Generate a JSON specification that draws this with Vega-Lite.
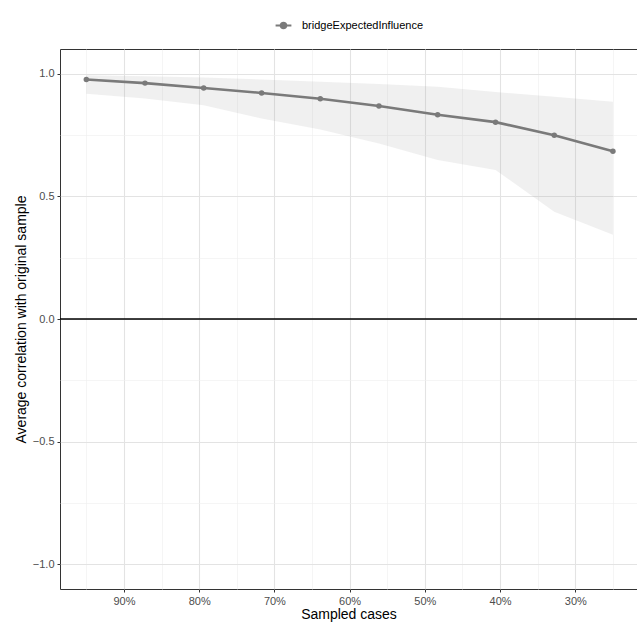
{
  "$schema": "https://vega.github.io/schema/vega-lite/v6.json",
  "width": 577,
  "height": 540,
  "autosize": "none",
  "padding": {"left": 60, "top": 49, "right": 0, "bottom": 34},
  "background": "white",
  "config": {
    "font": "Liberation Sans",
    "view": {"stroke": "#333333", "strokeWidth": 1},
    "axis": {
      "domain": false,
      "labelFont": "Liberation Sans",
      "labelFontSize": 11,
      "labelColor": "#4D4D4D",
      "titleFont": "Liberation Sans",
      "titleFontSize": 14,
      "titleFontWeight": "normal",
      "titleColor": "#000000",
      "tickColor": "#333333",
      "tickSize": 3,
      "labelPadding": 3
    },
    "legend": {
      "layout": {"top": {"anchor": "middle"}},
      "labelFont": "Liberation Sans",
      "labelFontSize": 11,
      "labelColor": "#000000"
    }
  },
  "datasets": {
    "stab": [
      {"sampled": 0.95, "mean": 0.976, "lower": 0.918, "upper": 0.993, "type": "bridgeExpectedInfluence"},
      {"sampled": 0.872, "mean": 0.961, "lower": 0.898, "upper": 0.989, "type": "bridgeExpectedInfluence"},
      {"sampled": 0.794, "mean": 0.941, "lower": 0.871, "upper": 0.984, "type": "bridgeExpectedInfluence"},
      {"sampled": 0.717, "mean": 0.921, "lower": 0.817, "upper": 0.976, "type": "bridgeExpectedInfluence"},
      {"sampled": 0.639, "mean": 0.897, "lower": 0.772, "upper": 0.967, "type": "bridgeExpectedInfluence"},
      {"sampled": 0.561, "mean": 0.868, "lower": 0.715, "upper": 0.957, "type": "bridgeExpectedInfluence"},
      {"sampled": 0.483, "mean": 0.832, "lower": 0.648, "upper": 0.946, "type": "bridgeExpectedInfluence"},
      {"sampled": 0.406, "mean": 0.802, "lower": 0.607, "upper": 0.925, "type": "bridgeExpectedInfluence"},
      {"sampled": 0.328, "mean": 0.749, "lower": 0.437, "upper": 0.905, "type": "bridgeExpectedInfluence"},
      {"sampled": 0.25, "mean": 0.683, "lower": 0.343, "upper": 0.885, "type": "bridgeExpectedInfluence"}
    ],
    "zero": [{"y": 0}]
  },
  "layer": [
    {
      "data": {"name": "stab"},
      "mark": {"type": "area", "fill": "#999999", "fillOpacity": 0.15},
      "encoding": {
        "x": {
          "field": "sampled", "type": "quantitative",
          "scale": {"domain": [0.985, 0.218], "nice": false, "zero": false},
          "title": "Sampled cases",
          "axis": {
            "values": [0.25, 0.3, 0.35, 0.4, 0.45, 0.5, 0.55, 0.6, 0.65, 0.7, 0.75, 0.8, 0.85, 0.9, 0.95],
            "format": ".0%",
            "labelExpr": "abs(datum.value*10 - round(datum.value*10)) < 0.001 ? datum.label : ''",
            "grid": true,
            "gridColor": {"condition": {"test": "abs(datum.value*10 - round(datum.value*10)) < 0.001", "value": "#E3E3E3"}, "value": "#EEEEEE"},
            "gridWidth": {"condition": {"test": "abs(datum.value*10 - round(datum.value*10)) < 0.001", "value": 1.1}, "value": 0.6},
            "tickOpacity": {"condition": {"test": "abs(datum.value*10 - round(datum.value*10)) < 0.001", "value": 1}, "value": 0},
            "titlePadding": 1
          }
        },
        "y": {
          "field": "lower", "type": "quantitative",
          "scale": {"domain": [-1.1, 1.1], "nice": false, "zero": false},
          "title": "Average correlation with original sample",
          "axis": {
            "values": [-1, -0.75, -0.5, -0.25, 0, 0.25, 0.5, 0.75, 1],
            "format": ".1f",
            "labelExpr": "abs(datum.value*2 - round(datum.value*2)) < 0.001 ? datum.label : ''",
            "grid": true,
            "gridColor": {"condition": {"test": "abs(datum.value*2 - round(datum.value*2)) < 0.001", "value": "#E3E3E3"}, "value": "#EEEEEE"},
            "gridWidth": {"condition": {"test": "abs(datum.value*2 - round(datum.value*2)) < 0.001", "value": 1.1}, "value": 0.6},
            "tickOpacity": {"condition": {"test": "abs(datum.value*2 - round(datum.value*2)) < 0.001", "value": 1}, "value": 0},
            "titlePadding": 4
          }
        },
        "y2": {"field": "upper"}
      }
    },
    {
      "data": {"name": "zero"},
      "mark": {"type": "rule", "color": "#000000", "strokeWidth": 1.3},
      "encoding": {"y": {"field": "y", "type": "quantitative"}}
    },
    {
      "data": {"name": "stab"},
      "mark": {"type": "line", "strokeWidth": 2.6, "point": {"size": 30, "filled": true}},
      "encoding": {
        "x": {"field": "sampled", "type": "quantitative"},
        "y": {"field": "mean", "type": "quantitative"},
        "color": {
          "field": "type", "type": "nominal",
          "scale": {"domain": ["bridgeExpectedInfluence"], "range": ["#7A7A7A"]},
          "legend": {
            "orient": "top",
            "title": null,
            "symbolType": "M-1,0L1,0M-0.35,0A0.35,0.35 0 1,0 0.35,0A0.35,0.35 0 1,0 -0.35,0",
            "symbolSize": 250,
            "symbolStrokeWidth": 2.2,
            "symbolFillColor": "#7A7A7A",
            "symbolStrokeColor": "#7A7A7A",
            "labelOffset": 9,
            "offset": 16
          }
        }
      }
    }
  ]
}
